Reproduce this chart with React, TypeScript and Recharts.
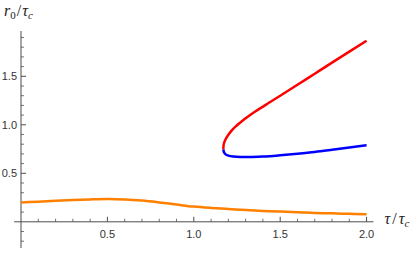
import React from 'react';
import { LineChart, Line, XAxis, YAxis, ReferenceLine } from 'recharts';

// orange branch (lower solution)
const orangeX = [0, 0.1, 0.2, 0.3, 0.4, 0.5, 0.6, 0.7, 0.8, 0.9, 1.0, 1.1, 1.2, 1.3, 1.4, 1.5, 1.6, 1.7, 1.8, 1.9, 2.0];
const orangeY = [0.2, 0.208, 0.216, 0.224, 0.231, 0.235, 0.231, 0.219, 0.2, 0.178, 0.157, 0.143, 0.132, 0.121, 0.112, 0.105, 0.098, 0.092, 0.087, 0.082, 0.078];

// upper branch (red) and middle branch (blue), both start at the fold
const redX = [1.171, 1.172, 1.175, 1.18, 1.19, 1.205, 1.22, 1.25, 1.28, 1.32, 1.36, 1.43, 1.5, 1.6, 1.7, 1.8, 1.9, 2.0];
const redY = [0.745, 0.785, 0.81, 0.835, 0.87, 0.91, 0.943, 0.995, 1.04, 1.093, 1.142, 1.222, 1.3, 1.413, 1.527, 1.641, 1.754, 1.866];
const blueX = [1.171, 1.173, 1.177, 1.185, 1.2, 1.23, 1.27, 1.32, 1.4, 1.5, 1.6, 1.7, 1.8, 1.9, 2.0];
const blueY = [0.745, 0.726, 0.71, 0.695, 0.683, 0.673, 0.669, 0.668, 0.673, 0.686, 0.702, 0.72, 0.742, 0.765, 0.79];

const xMajor = [0.5, 1.0, 1.5, 2.0];
const xMajorLabels = ['0.5', '1.0', '1.5', '2.0'];
const xMinor = [0.1, 0.2, 0.3, 0.4, 0.6, 0.7, 0.8, 0.9, 1.1, 1.2, 1.3, 1.4, 1.6, 1.7, 1.8, 1.9];
const yMajor = [0.5, 1.0, 1.5];
const yMajorLabels = ['0.5', '1.0', '1.5'];
const yMinor = [-0.2, -0.1, 0.1, 0.2, 0.3, 0.4, 0.6, 0.7, 0.8, 0.9, 1.1, 1.2, 1.3, 1.4, 1.6, 1.7, 1.8, 1.9];

const toPoints = (xs: number[], ys: number[]) => xs.map((x, i) => ({ x, y: ys[i] }));

const AXIS = '#4d4d4d';
const TICK_FONT = '"Liberation Sans", Arial, sans-serif';
const MATH_FONT = '"Liberation Serif", "Times New Roman", serif';

const XTickLabel = ({ viewBox, value }: any) => (
  <text x={viewBox.x + viewBox.width / 2} y={viewBox.y + viewBox.height + 16} textAnchor="middle"
    fontSize={11} fontFamily={TICK_FONT} fill="#333">{value}</text>
);

const YTickLabel = ({ viewBox, value }: any) => (
  <text x={viewBox.x - 4} y={viewBox.y + 4} textAnchor="end"
    fontSize={11} fontFamily={TICK_FONT} fill="#333">{value}</text>
);

const YTitle = ({ viewBox }: any) => (
  <text x={viewBox.x - 17} y={viewBox.y - 15} textAnchor="start" fontSize={16} fontFamily={MATH_FONT} fill="#222">
    <tspan fontStyle="italic">r</tspan>
    <tspan fontSize={11} dy={3}>0</tspan>
    <tspan dy={-3} dx={1}>/</tspan>
    <tspan fontStyle="italic" dx={1}>τ</tspan>
    <tspan fontSize={11} dy={3} fontStyle="italic">c</tspan>
  </text>
);

const XTitle = ({ viewBox }: any) => (
  <text x={viewBox.x + viewBox.width + 11} y={viewBox.y + 2} textAnchor="start" fontSize={16} fontFamily={MATH_FONT} fill="#222">
    <tspan fontStyle="italic">τ</tspan>
    <tspan dx={2}>/</tspan>
    <tspan fontStyle="italic" dx={2}>τ</tspan>
    <tspan fontSize={11} dy={3} fontStyle="italic">c</tspan>
  </text>
);

export default function App() {
  return (
    <div style={{ width: 417, height: 254 }}>
      <style>{'body{margin:0}'}</style>
      <LineChart width={417} height={254} margin={{ top: 31, right: 43.5, bottom: 6, left: 14.1 }}>
        <XAxis type="number" dataKey="x" domain={[-0.04, 2.04]} allowDataOverflow hide />
        <YAxis type="number" dataKey="y" domain={[-0.27, 1.967]} allowDataOverflow hide />

        <ReferenceLine x={0} stroke={AXIS} strokeWidth={1} label={<YTitle />} />
        <ReferenceLine y={0} stroke={AXIS} strokeWidth={1} label={<XTitle />} />

        {xMinor.map((v) => (
          <ReferenceLine key={'xm' + v} segment={[{ x: v, y: 0 }, { x: v, y: 0.031 }]} stroke={AXIS} strokeWidth={0.8} />
        ))}
        {xMajor.map((v, i) => (
          <ReferenceLine key={'xM' + v} segment={[{ x: v, y: 0 }, { x: v, y: 0.052 }]} stroke={AXIS} strokeWidth={1}
            label={<XTickLabel value={xMajorLabels[i]} />} />
        ))}
        {yMinor.map((v) => (
          <ReferenceLine key={'ym' + v} segment={[{ x: 0, y: v }, { x: 0.017, y: v }]} stroke={AXIS} strokeWidth={0.8} />
        ))}
        {yMajor.map((v, i) => (
          <ReferenceLine key={'yM' + v} segment={[{ x: 0, y: v }, { x: 0.029, y: v }]} stroke={AXIS} strokeWidth={1}
            label={<YTickLabel value={yMajorLabels[i]} />} />
        ))}

        <Line data={toPoints(orangeX, orangeY)} dataKey="y" type="monotone" stroke="#ff8000" strokeWidth={2.5}
          dot={false} activeDot={false} isAnimationActive={false} />
        <Line data={toPoints(redX, redY)} dataKey="y" type="monotone" stroke="#ff0000" strokeWidth={2.5}
          dot={false} activeDot={false} isAnimationActive={false} />
        <Line data={toPoints(blueX, blueY)} dataKey="y" type="monotone" stroke="#0000ff" strokeWidth={2.5}
          dot={false} activeDot={false} isAnimationActive={false} />
      </LineChart>
    </div>
  );
}
